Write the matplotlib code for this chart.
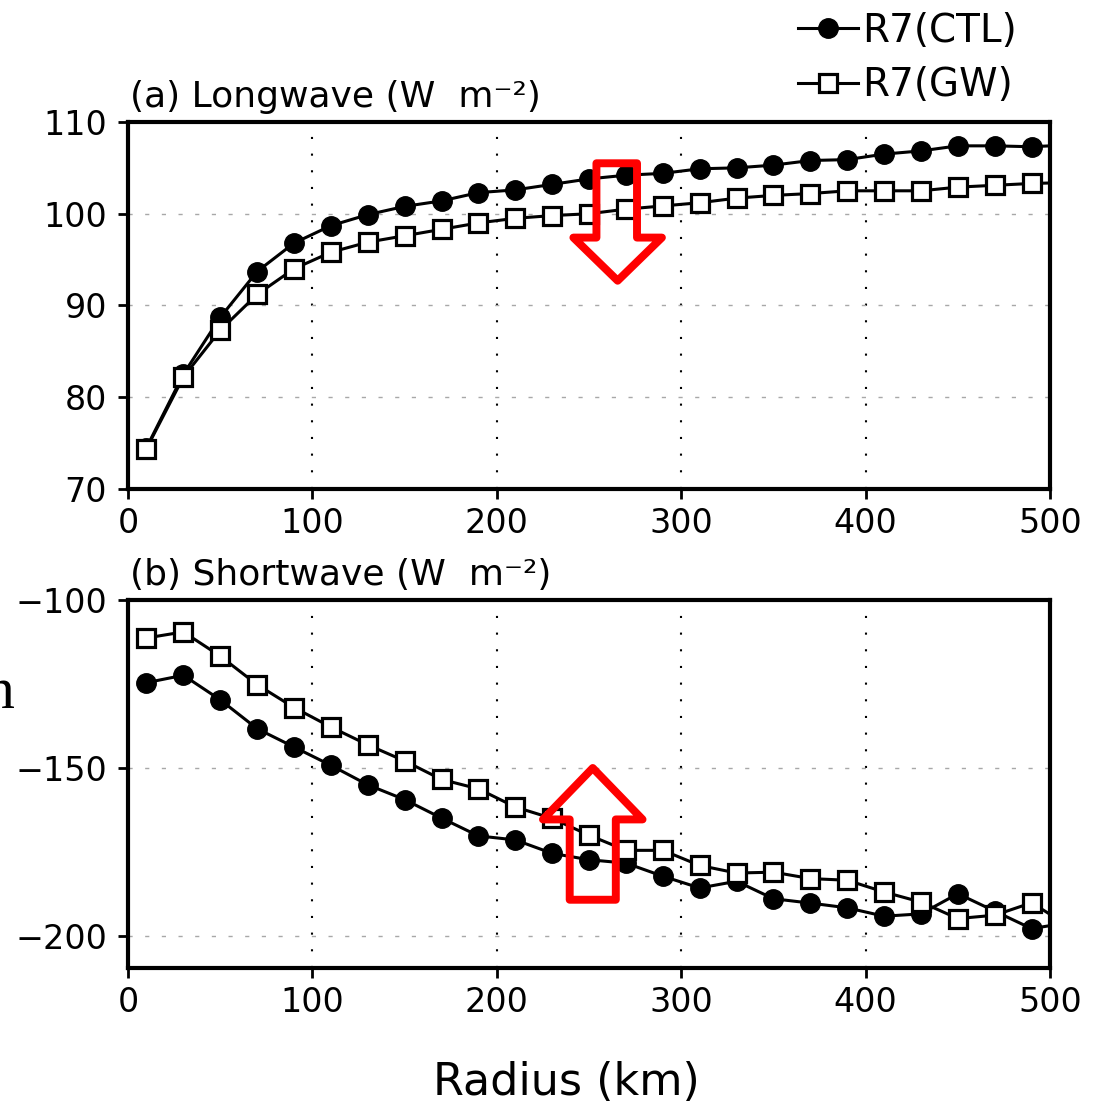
import matplotlib
matplotlib.use('Agg')
import matplotlib.pyplot as plt
from matplotlib.patches import Polygon
from matplotlib.lines import Line2D

# ---------------------------------------------
# data, last point lies just outside 500 km
# ---------------------------------------------
radius = [10, 30, 50, 70, 90, 110, 130, 150, 170, 190, 210, 230, 250,
          270, 290, 310, 330, 350, 370, 390, 410, 430, 450, 470, 490, 510]

lw_ctl = [74.5, 82.5, 88.7, 93.7, 96.8, 98.7, 99.9, 100.8, 101.4, 102.3, 102.6, 103.2, 103.8,
          104.2, 104.4, 104.9, 105.0, 105.3, 105.8, 105.9, 106.5, 106.85, 107.4, 107.4, 107.3, 107.5]
lw_gw = [74.4, 82.2, 87.3, 91.2, 94.0, 95.8, 96.9, 97.6, 98.3, 99.0, 99.5, 99.8, 100.0,
         100.5, 100.85, 101.2, 101.7, 102.0, 102.2, 102.5, 102.5, 102.5, 102.9, 103.1, 103.3, 103.4]

sw_ctl = [-124.6, -122.4, -129.7, -138.3, -143.75, -149.2, -155.0, -159.4, -164.9, -170.2, -171.4, -175.4, -177.3,
          -178.3, -182.2, -185.7, -183.7, -188.9, -190.2, -191.6, -194.1, -193.4, -187.4, -192.6, -197.8, -196.0]
sw_gw = [-111.3, -109.5, -116.7, -125.2, -132.0, -137.8, -143.1, -147.9, -153.4, -156.2, -161.6, -165.0, -170.0,
         -174.5, -174.5, -179.0, -181.25, -181.0, -182.9, -183.4, -186.9, -189.9, -194.8, -193.8, -190.1, -197.0]

x_ticks = [0, 100, 200, 300, 400, 500]
lw_yticks = [70, 80, 90, 100, 110]
sw_yticks = [-200, -150, -100]

labels = ['R7(CTL)', 'R7(GW)']
titles = ['(a) Longwave (W  m\u207b\u00b2)', '(b) Shortwave (W  m\u207b\u00b2)']

# red arrows (x, y) outlines in data units
arrow_down = [(254, 105.5), (276, 105.5), (276, 97.4), (289.5, 97.4),
              (265.5, 92.7), (241.5, 97.4), (254, 97.4)]
arrow_up = [(239.5, -189.2), (264.5, -189.2), (264.5, -165.3), (279, -165.3),
            (252, -150.0), (225, -165.3), (239.5, -165.3)]

# ---------------------------------------------
# plotting
# ---------------------------------------------
plt.rcParams['font.family'] = 'DejaVu Sans'
fig = plt.figure(figsize=(10.99, 11.07), dpi=100)
ax1 = fig.add_axes([0.1165, 0.5583, 0.839, 0.3315])
ax2 = fig.add_axes([0.1165, 0.1256, 0.839, 0.3324])

ctl_style = dict(color='black', lw=2.2, marker='o', ms=14, mfc='black', mec='black')
gw_style = dict(color='black', lw=2.2, marker='s', ms=12.5, mfc='white', mec='black', mew=2.3)

panels = [(ax1, lw_ctl, lw_gw, (70, 110), lw_yticks, arrow_down),
          (ax2, sw_ctl, sw_gw, (-209.5, -100), sw_yticks, arrow_up)]

for i, (ax, ctl, gw, ylim, yt, arr) in enumerate(panels):
    ax.plot(radius, ctl, **ctl_style)
    ax.plot(radius, gw, **gw_style)
    ax.set_xlim(0, 500)
    ax.set_ylim(*ylim)
    ax.set_xticks(x_ticks)
    ax.set_yticks(yt)
    for xg in x_ticks[1:-1]:
        ax.axvline(xg, color='black', lw=1.5, ls=(0, (1, 7)), zorder=1)
    for yg in yt:
        ax.axhline(yg, color='#a8a8a8', lw=1.0, ls=(0, (3, 9)), zorder=1)
    for s in ax.spines.values():
        s.set_linewidth(3)
    ax.tick_params(direction='out', length=7, width=2, labelsize=24, pad=6)
    ax.tick_params(axis='y', pad=8)
    ax.text(0.002, 1.04, titles[i], transform=ax.transAxes, fontsize=26,
            ha='left', va='baseline')
    ax.add_patch(Polygon(arr, closed=True, fill=False, edgecolor='#ff0000',
                         lw=5.7, joinstyle='round', zorder=5))

fig.text(0.515, 0.0217, 'Radius (km)', fontsize=32, ha='center', va='center')

# clipped letter at the left edge
fig.text(15 / 1099, 1 - 708 / 1107, 'n', family='Liberation Serif', fontsize=43,
         ha='right', va='baseline')

handles = [Line2D([], [], **ctl_style), Line2D([], [], **gw_style)]
fig.legend(handles, labels, loc='upper left', bbox_to_anchor=(798 / 1099, 1 - 12 / 1107),
           frameon=False, fontsize=28, borderpad=0, borderaxespad=0, handlelength=1.55,
           handletextpad=0.1, labelspacing=0.42, numpoints=1)

fig.savefig('out.png', dpi=100)
